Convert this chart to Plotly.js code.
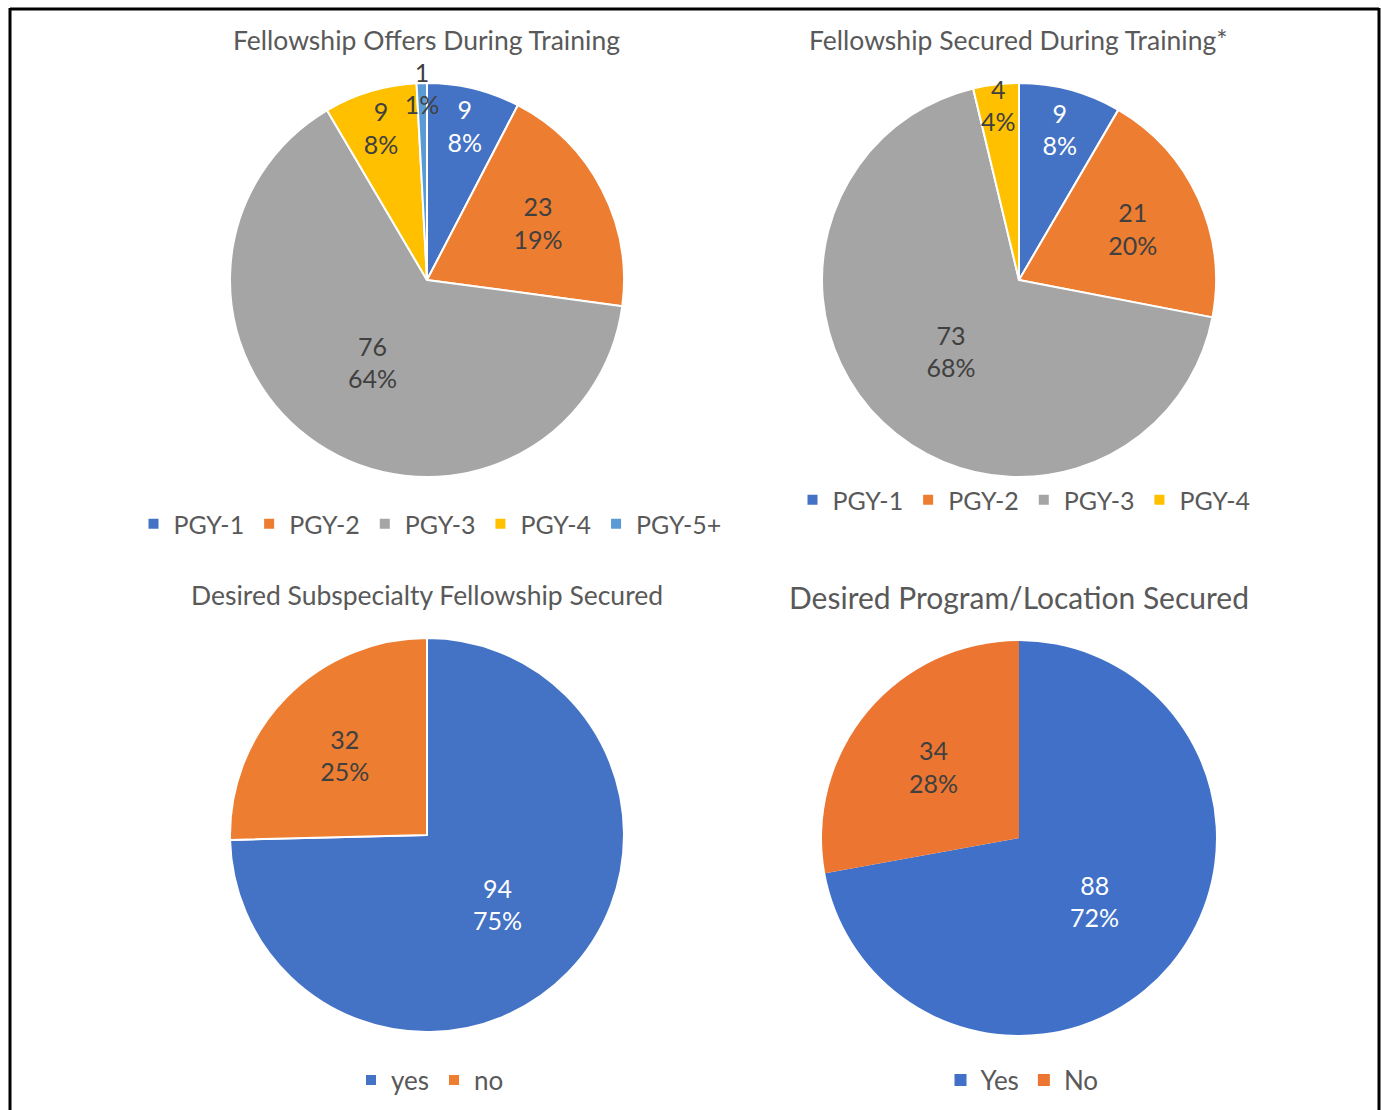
<!DOCTYPE html>
<html><head><meta charset="utf-8">
<script src="https://cdn.plot.ly/plotly-3.0.1.min.js"></script>
<style>html,body{margin:0;padding:0;background:#fff}#chart{width:1381px;height:1110px}</style>
</head><body><div id="chart"></div>
<script>
const W = 1381, H = 1110;

// ---- data ----
const offersTitle = 'Fellowship Offers During Training';
const offersLabels = ['PGY-1', 'PGY-2', 'PGY-3', 'PGY-4', 'PGY-5+'];
const offersValues = [9, 23, 76, 9, 1];

const securedTitle = 'Fellowship Secured During Training*';
const securedLabels = ['PGY-1', 'PGY-2', 'PGY-3', 'PGY-4'];
const securedValues = [9, 21, 73, 4];

const subspecTitle = 'Desired Subspecialty Fellowship Secured';
const subspecLabels = ['yes', 'no'];
const subspecValues = [94, 32];

const programTitle = 'Desired Program/Location Secured';
const programLabels = ['Yes', 'No'];
const programValues = [88, 34];

// ---- styles ----
const FONT = 'Lato, "Open Sans", sans-serif';
const GREY = '#595959';
const DARK = '#404040';
const pgyColors = ['#4472C4', '#ED7D31', '#A5A5A5', '#FFC000', '#5B9BD5'];
const pgyText = ['#ffffff', DARK, DARK, DARK, DARK];
const ynColors = ['#4472C4', '#ED7D31'];
const ynColors4 = ['#4170C8', '#EC7631'];
const ynText = ['#ffffff', DARK];

function dom(cx, cy, r) {
  return { x: [(cx - r) / W, (cx + r) / W], y: [1 - (cy + r) / H, 1 - (cy - r) / H] };
}

function pie(labels, values, colors, textColors, domain, legend, lineW) {
  return {
    type: 'pie',
    labels: labels,
    values: values,
    sort: false,
    direction: 'clockwise',
    rotation: 0,
    domain: domain,
    legend: legend,
    legendgroup: 'grp_' + legend,
    marker: { colors: colors, line: { color: '#ffffff', width: lineW } },
    texttemplate: '%{value}<br>%{percent:.0%}',
    textposition: 'inside',
    insidetextorientation: 'horizontal',
    textfont: { family: FONT, size: 25, color: textColors.slice(0, labels.length) },
    hoverinfo: 'label+value+percent'
  };
}

const data = [
  pie(offersLabels, offersValues, pgyColors, pgyText, dom(427, 280, 197), 'legend', 2),
  pie(securedLabels, securedValues, pgyColors, pgyText, dom(1019, 280, 197), 'legend2', 2),
  pie(subspecLabels, subspecValues, ynColors, ynText, dom(427, 835, 197), 'legend3', 2),
  pie(programLabels, programValues, ynColors4, ynText, dom(1019, 838, 197), 'legend4', 0)
];

function legendAt(cx, cy, size) {
  return {
    orientation: 'h', xanchor: 'center', yanchor: 'middle',
    traceorder: 'normal',
    x: cx / W, y: 1 - cy / H,
    bgcolor: 'rgba(0,0,0,0)',
    font: { family: FONT, size: size, color: GREY },
    itemclick: false, itemdoubleclick: false
  };
}

function title(text, cx, cy, size) {
  return {
    text: text, xref: 'paper', yref: 'paper', x: cx / W, y: 1 - cy / H,
    xanchor: 'center', yanchor: 'middle', showarrow: false,
    font: { family: FONT, size: size, color: GREY }
  };
}

const layout = {
  width: W, height: H,
  margin: { l: 0, r: 0, t: 0, b: 0 },
  paper_bgcolor: '#ffffff',
  showlegend: true,
  uniformtext: { minsize: 25, mode: 'show' },
  legend: legendAt(430, 524, 25),
  legend2: legendAt(1024, 500, 25),
  legend3: legendAt(430, 1080, 26),
  legend4: legendAt(1022, 1080, 26),
  annotations: [
    title(offersTitle, 427, 40, 26.5),
    title(securedTitle, 1018, 40, 26.5),
    title(subspecTitle, 427, 595, 26.5),
    title(programTitle, 1019, 597, 30)
  ],
  shapes: [
    { type: 'line', xref: 'paper', yref: 'paper', x0: 10 / W, x1: 10 / W, y0: 0, y1: 1 - 8 / H, line: { color: '#000', width: 3 } },
    { type: 'line', xref: 'paper', yref: 'paper', x0: 1379 / W, x1: 1379 / W, y0: 0, y1: 1 - 8 / H, line: { color: '#000', width: 3 } },
    { type: 'line', xref: 'paper', yref: 'paper', x0: 10 / W, x1: 1379 / W, y0: 1 - 9 / H, y1: 1 - 9 / H, line: { color: '#000', width: 3 } }
  ]
};

Plotly.newPlot('chart', data, layout, { staticPlot: true, displayModeBar: false });
</script>
</body></html>
